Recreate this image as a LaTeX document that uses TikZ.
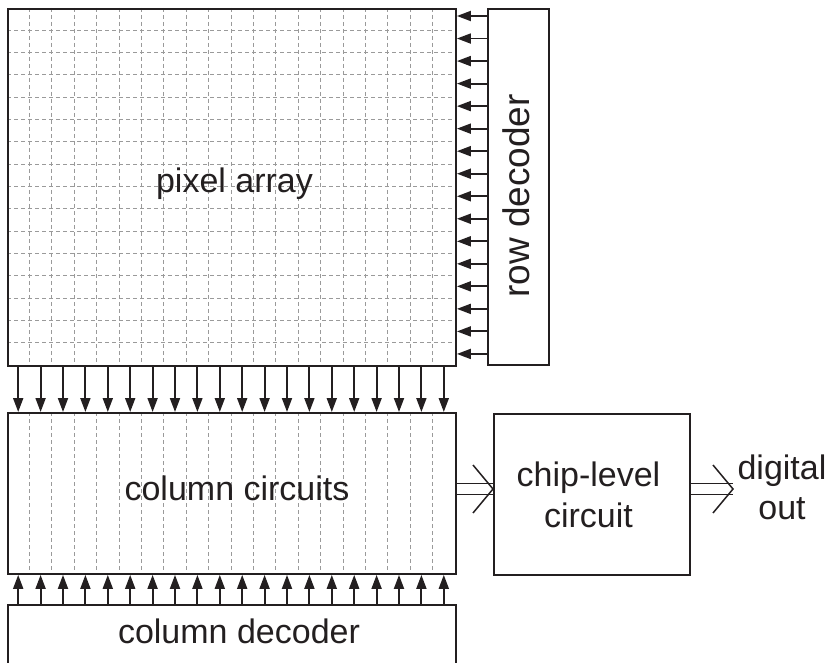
\documentclass[tikz,border=0pt]{standalone}
\usepackage{fontspec}
\setmainfont{Liberation Sans}
\usetikzlibrary{arrows.meta,calc}
\definecolor{ink}{HTML}{231F20}
\definecolor{gridgray}{HTML}{9A9A9A}
\begin{document}
\begin{tikzpicture}[x=1pt,y=-1pt,
  box/.style={draw=ink,line width=1.9pt,rectangle,inner sep=0pt,anchor=north west},
  gridline/.style={draw=gridgray,line width=1pt,dash pattern=on 4pt off 3pt},
  sig/.style={draw=ink,line width=1.9pt,-{Triangle[length=14pt,width=10pt]}},
  dbl/.style={draw=ink,line width=1.5pt,double=white,double distance=9.5pt},
  chev/.style={draw=ink,line width=1.5pt,line join=miter},
  lbl/.style={text=ink,font=\fontsize{34}{40}\selectfont,anchor=base,inner sep=0pt}]
\useasboundingbox (0,0) rectangle (830,663);
% grid of the pixel array
\foreach \i in {1,...,19} \draw[gridline] ({7+22.4*\i},8) -- ({7+22.4*\i},365);
\foreach \j in {1,...,15} \draw[gridline] (7,{8+357/16*\j}) -- (455,{8+357/16*\j});
% column circuits dashed lines
\foreach \i in {1,...,19} \draw[gridline] ({7+22.4*\i},412) -- ({7+22.4*\i},573);
% blocks
\node[box,minimum width=448pt,minimum height=357pt] (pa) at (7,8) {};
\node[box,minimum width=61pt,minimum height=356pt] (rd) at (487,8) {};
\node[box,minimum width=448pt,minimum height=161pt] (cc) at (7,412) {};
\node[box,minimum width=448pt,minimum height=90pt] (cd) at (7,604) {};
\node[box,minimum width=196pt,minimum height=161pt] (chip) at (493,413) {};
% row arrows
\foreach \j in {0,...,15} {
  \coordinate (r\j) at (0,{16+22.53*\j});
  \draw[sig] (rd.west |- r\j) -- (pa.east |- r\j);
}
% column arrows
\foreach \i in {0,...,19} {
  \coordinate (c\i) at ({7+22.4*(\i+0.5)},0);
  \draw[sig] (pa.south -| c\i) -- (cc.north -| c\i);
  \draw[sig] (cd.north -| c\i) -- (cc.south -| c\i);
}
% double arrows
\coordinate (d1) at (0,489);
\coordinate (dout) at (733,489);
\draw[dbl] (cc.east |- d1) -- (chip.west |- d1);
\draw[chev] ($(chip.west |- d1)+(-20,-24)$) -- (chip.west |- d1) -- ($(chip.west |- d1)+(-20,24)$);
\draw[dbl] (chip.east |- d1) -- (dout);
\draw[chev] ($(dout)+(-20,-24)$) -- (dout) -- ($(dout)+(-20,24)$);
% labels
\node[lbl] (tpa) at (234.5,193) {pixel array};
\node[lbl,rotate=90,font=\fontsize{37}{44}\selectfont] (trd) at (529,196) {row decoder};
\node[lbl] (tcc) at (237,500) {column circuits};
\node[lbl] (tcd) at (239,643) {column decoder};
\node[lbl] (tch1) at (588.5,486) {chip-level};
\node[lbl] (tch2) at (588.5,527) {circuit};
\node[lbl] (tdo1) at (782,479) {digital};
\node[lbl] (tdo2) at (782,519) {out};
\end{tikzpicture}
\end{document}
